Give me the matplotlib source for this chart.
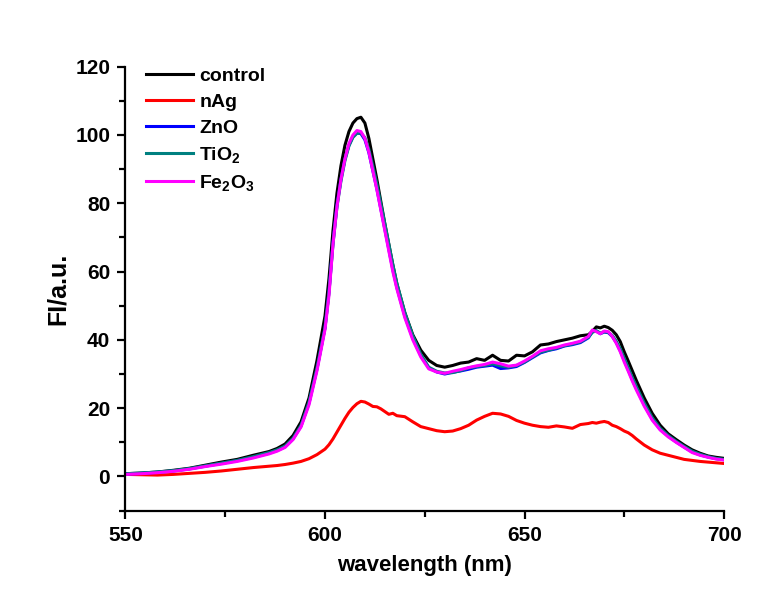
import numpy as np
import matplotlib
matplotlib.use("Agg")
import matplotlib.pyplot as plt

plt.rcParams['font.family'] = ['Liberation Sans', 'DejaVu Sans']
plt.rcParams['font.weight'] = 'bold'
plt.rcParams['mathtext.fontset'] = 'custom'
plt.rcParams['mathtext.rm'] = 'Liberation Sans:bold'
plt.rcParams['mathtext.bf'] = 'Liberation Sans:bold'
plt.rcParams['mathtext.default'] = 'bf'

# wavelength grid (nm)
wl = [550, 554, 558, 562, 566, 570, 574, 578, 582, 586,
      588, 590, 592, 594, 596, 598, 600, 601, 602, 603,
      604, 605, 606, 607, 608, 609, 610, 611, 612, 613,
      614, 615, 616, 617, 618, 620, 622, 624, 626, 628,
      630, 632, 634, 636, 638, 640, 642, 644, 646, 648,
      650, 652, 654, 656, 658, 660, 662, 664, 666, 667,
      668, 669, 670, 671, 672, 673, 674, 675, 676, 677,
      678, 680, 682, 684, 686, 688, 690, 692, 694, 696,
      698, 700]

control = [0.8, 1.0, 1.3, 1.8, 2.4, 3.3, 4.2, 5.0, 6.2, 7.3,
           8.2, 9.5, 12, 16, 23, 34, 47, 58, 72, 83,
           91, 97, 101, 103.5, 104.8, 105.2, 103.5, 99, 93, 87,
           80.5, 74, 68, 62, 56.5, 48, 41.5, 37, 34, 32.5,
           32, 32.5, 33.2, 33.5, 34.5, 34, 35.5, 34, 33.8, 35.5,
           35.3, 36.5, 38.5, 38.8, 39.5, 40, 40.5, 41.2, 41.5, 42.5,
           43.8, 43.5, 44, 43.6, 42.8, 41.5, 39.5, 36.5, 33.8, 31,
           28.2, 23, 18.5, 15, 12.5, 10.8, 9.2, 7.8, 6.8, 6.0,
           5.6, 5.3]

nAg = [0.6, 0.5, 0.4, 0.6, 0.9, 1.2, 1.6, 2.1, 2.6, 3.0,
       3.2, 3.5, 3.9, 4.4, 5.2, 6.4, 8.0, 9.3, 11, 13,
       15, 17, 18.8, 20.2, 21.3, 22, 21.8, 21.2, 20.5, 20.4,
       19.8, 19, 18.2, 18.5, 17.8, 17.5, 16, 14.6, 14, 13.4,
       13.1, 13.3, 14, 15, 16.5, 17.6, 18.5, 18.3, 17.6, 16.4,
       15.6, 15, 14.6, 14.4, 14.8, 14.5, 14.1, 15.2, 15.5, 15.8,
       15.6, 15.9, 16.1, 15.8, 15, 14.6, 14, 13.3, 12.8, 12,
       11, 9.2, 7.8, 6.8, 6.2, 5.6, 5.0, 4.7, 4.4, 4.2,
       4.0, 3.8]

ZnO = [0.7, 0.9, 1.2, 1.6, 2.2, 3.0, 3.8, 4.6, 5.6, 6.8,
       7.6, 8.7, 11, 14.8, 21.5, 31.5, 43.5, 54, 68.5, 79.5,
       87, 93, 97, 99.5, 100.6, 100.4, 98.6, 94.8, 89.5, 84.2,
       78.3, 72.4, 66.5, 60.6, 55.4, 47, 40.5, 35.4, 31.8, 30.6,
       30, 30.5, 30.9, 31.4, 32, 32.3, 32.6, 31.6, 31.8, 32.2,
       33.4, 34.8, 36.2, 36.9, 37.4, 38.2, 38.6, 39.2, 40.6, 42.4,
       42.6, 41.8, 42.3, 42.1, 41, 39.2, 36.8, 34, 31.2, 28.4,
       25.8, 21, 16.8, 13.8, 11.8, 10.1, 8.6, 7.2, 6.3, 5.7,
       5.2, 4.9]

TiO2 = [0.8, 1.0, 1.3, 1.7, 2.3, 3.1, 3.9, 4.7, 5.8, 7.0,
        7.8, 8.9, 11.2, 15, 21.8, 31.8, 43.6, 54, 68, 79,
        86.5, 92.5, 96.8, 99.3, 100.5, 100.6, 99.2, 95.8, 90.8, 85.6,
        79.8, 74, 68, 62, 56.6, 48, 41.2, 35.8, 32, 30.8,
        30.3, 30.4, 31, 31.8, 32.2, 32.5, 33, 32.4, 32, 32.5,
        33.5, 35, 36.4, 37, 37.6, 38.3, 38.8, 39.4, 40.8, 42.2,
        42.7, 42, 42.4, 42.2, 41.3, 39.6, 37.4, 34.6, 31.8, 29,
        26.4, 21.5, 17.2, 14.1, 12, 10.3, 8.8, 7.4, 6.5, 5.8,
        5.3, 5.0]

Fe2O3 = [0.6, 0.8, 1.1, 1.5, 2.1, 2.9, 3.6, 4.4, 5.4, 6.6,
         7.4, 8.5, 10.8, 14.5, 21, 31, 43, 53, 68, 79,
         87, 93, 97.5, 100, 101.3, 101, 99, 95, 89.5, 84,
         78, 72, 66, 60, 55, 46.5, 40, 35, 31.5, 30.6,
         30.2, 30.8, 31.3, 31.9, 32.4, 32.8, 33.5, 33, 32.3, 32.6,
         33.8, 35.2, 36.8, 37.4, 37.8, 38.5, 39, 39.6, 41, 42.9,
         42.4, 41.8, 42.6, 42.4, 41, 39, 36.5, 33.5, 30.8, 28,
         25.4, 20.6, 16.5, 13.6, 11.6, 10, 8.5, 7, 6.2, 5.6,
         5.1, 4.8]

labels = ['control', 'nAg', 'ZnO', r'TiO$_2$', r'Fe$_2$O$_3$']
colors = ['#000000', '#ff0000', '#0000ff', '#008080', '#ff00ff']

fig = plt.figure(figsize=(7.77, 6.12), dpi=100)
ax = fig.add_axes([0.1615, 0.1657, 0.7703, 0.7253])

for y, lab, c in zip([control, nAg, ZnO, TiO2, Fe2O3], labels, colors):
    ax.plot(wl, y, color=c, lw=2.2, label=lab)

ax.set_xlim(550, 700)
ax.set_ylim(-10, 120)
ax.set_xticks([550, 600, 650, 700])
ax.set_xticks([575, 625, 675], minor=True)
ax.set_yticks(np.arange(0, 121, 20))
ax.set_yticks(np.arange(-10, 120, 20), minor=True)

for s in ['top', 'right']:
    ax.spines[s].set_visible(False)
for s in ['left', 'bottom']:
    ax.spines[s].set_linewidth(1.6)

ax.tick_params(which='major', direction='out', length=6, width=1.6, labelsize=15, pad=5)
ax.tick_params(which='minor', direction='out', length=4, width=1.6)

ax.set_xlabel('wavelength (nm)', fontsize=16, fontweight='bold', labelpad=7)
ax.set_ylabel('FI/a.u.', fontsize=18, fontweight='bold', labelpad=4)

ax.legend(loc='upper left', bbox_to_anchor=(0.034, 0.998), frameon=False,
          borderpad=0, borderaxespad=0, handlelength=2.4, handletextpad=0.35,
          labelspacing=0.42, prop={'size': 14, 'weight': 'bold'})

fig.savefig('out.png', dpi=100)
